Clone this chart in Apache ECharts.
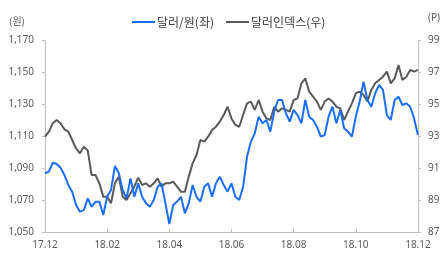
<!DOCTYPE html>
<html>
<head>
<meta charset="utf-8">
<script src="https://cdn.jsdelivr.net/npm/echarts@6/dist/echarts.min.js"></script>
<style>
  html, body { margin: 0; padding: 0; background: #fff; }
  #chart { width: 443px; height: 263px; }
</style>
</head>
<body>
<div id="chart"></div>
<script>
// x축 눈금 (16개 포인트마다)
const tickLabels = ['17.12', '18.02', '18.04', '18.06', '18.08', '18.10', '18.12'];

// 달러/원 (좌축, 원)
const usdKrw = [
  1086.7, 1087.7, 1093.3, 1092.5, 1090.2, 1085.6, 1079.4, 1075.2, 1066.9, 1062.7,
  1063.7, 1071.0, 1065.8, 1068.9, 1068.9, 1060.6, 1072.0, 1076.3, 1091.3, 1086.7,
  1076.3, 1071.0, 1083.5, 1072.0, 1080.4, 1072.0, 1067.9, 1065.8, 1070.0, 1078.3,
  1080.4, 1067.9, 1055.0, 1066.9, 1069.0, 1072.0, 1061.7, 1067.9, 1079.4, 1072.0,
  1069.0, 1078.3, 1080.4, 1072.0, 1080.4, 1084.6, 1079.4, 1075.2, 1080.4, 1072.0,
  1070.0, 1078.3, 1097.0, 1106.5, 1111.7, 1122.1, 1117.9, 1120.0, 1112.7, 1125.2,
  1132.5, 1132.5, 1124.2, 1119.0, 1126.3, 1123.1, 1117.9, 1132.5, 1122.1, 1120.0,
  1115.8, 1109.6, 1110.6, 1122.1, 1128.3, 1117.9, 1126.3, 1114.8, 1112.7, 1109.6,
  1122.1, 1131.5, 1144.0, 1132.5, 1128.3, 1136.7, 1141.9, 1138.8, 1123.1, 1120.0,
  1132.5, 1134.6, 1129.4, 1130.4, 1128.3, 1121.0, 1110.6
];

// 달러인덱스 (우축, P)
const dollarIndex = [
  92.96, 93.27, 93.79, 94.00, 93.80, 93.42, 93.27, 92.75, 92.23, 91.92,
  92.33, 92.10, 90.56, 90.56, 90.04, 89.21, 89.20, 88.80, 90.04, 90.46,
  89.21, 89.00, 89.42, 89.83, 90.40, 89.94, 90.04, 89.83, 90.04, 90.35,
  89.83, 90.04, 90.04, 90.15, 89.83, 89.52, 89.52, 90.46, 91.29, 91.81,
  92.75, 92.65, 92.96, 93.38, 93.58, 93.90, 94.31, 94.83, 94.10, 93.69,
  93.58, 94.31, 95.04, 95.15, 94.63, 95.25, 94.52, 94.10, 94.00, 94.83,
  94.52, 94.73, 94.63, 94.52, 95.25, 95.35, 96.29, 96.60, 95.77, 95.46,
  95.15, 94.63, 95.15, 95.35, 95.15, 94.83, 94.73, 94.00, 94.52, 95.04,
  95.67, 95.77, 95.56, 95.15, 95.88, 96.29, 96.50, 96.71, 97.02, 96.29,
  96.60, 97.44, 96.50, 96.71, 97.13, 97.02, 97.13
];

const step = 16;
const categories = usdKrw.map((v, i) => String(i));

const axisColor = '#bfbfbf';
const labelColor = '#595959';

let chart = echarts.init(document.getElementById('chart'));
chart.setOption({
  animation: false,
  textStyle: { fontFamily: 'Noto Sans, Noto Sans CJK KR' },
  grid: { left: 45, right: 25, top: 40, bottom: 31 },
  legend: {
    left: 127,
    top: 11,
    icon: 'rect',
    itemWidth: 23,
    itemHeight: 2,
    itemGap: 12,
    textStyle: { fontSize: 12, color: '#404040', fontFamily: 'Noto Sans CJK KR', padding: [0, 0, 0, -3] },
    data: ['달러/원(좌)', '달러인덱스(우)']
  },
  xAxis: {
    type: 'category',
    boundaryGap: false,
    data: categories,
    axisLine: { lineStyle: { color: axisColor } },
    axisTick: {
      show: true,
      inside: true,
      length: 3,
      interval: (i) => i % step === 0,
      lineStyle: { color: axisColor }
    },
    axisLabel: {
      interval: (i) => i % step === 0,
      formatter: (v, i) => tickLabels[i / step],
      color: labelColor,
      fontSize: 10,
      margin: 8
    }
  },
  yAxis: [
    {
      type: 'value',
      min: 1050,
      max: 1170,
      interval: 20,
      name: '(원)',
      nameLocation: 'end',
      nameGap: 14,
      nameTextStyle: { color: labelColor, fontSize: 10, align: 'right', padding: [0, 20, 0, 0], fontFamily: 'Noto Sans CJK KR' },
      axisLine: { show: true, lineStyle: { color: axisColor } },
      axisTick: { show: true, length: 3, lineStyle: { color: axisColor } },
      splitLine: { show: false },
      axisLabel: {
        color: labelColor,
        fontSize: 10,
        margin: 11,
        formatter: (v) => v.toLocaleString('en-US')
      }
    },
    {
      type: 'value',
      min: 87,
      max: 99,
      interval: 2,
      name: '(P)',
      nameLocation: 'end',
      nameGap: 17,
      nameTextStyle: { color: labelColor, fontSize: 10, align: 'left', padding: [0, 0, 0, 10] },
      axisLine: { show: true, lineStyle: { color: axisColor } },
      axisTick: { show: true, length: 3, lineStyle: { color: axisColor } },
      splitLine: { show: false },
      axisLabel: { color: labelColor, fontSize: 10, margin: 10 }
    }
  ],
  series: [
    {
      name: '달러/원(좌)',
      type: 'line',
      yAxisIndex: 0,
      symbol: 'none',
      data: usdKrw,
      lineStyle: { color: '#1a6dff', width: 2 },
      itemStyle: { color: '#1a6dff' },
      z: 3
    },
    {
      name: '달러인덱스(우)',
      type: 'line',
      yAxisIndex: 1,
      symbol: 'none',
      data: dollarIndex,
      lineStyle: { color: '#595959', width: 2 },
      itemStyle: { color: '#595959' },
      z: 2
    }
  ]
});
</script>
</body>
</html>
